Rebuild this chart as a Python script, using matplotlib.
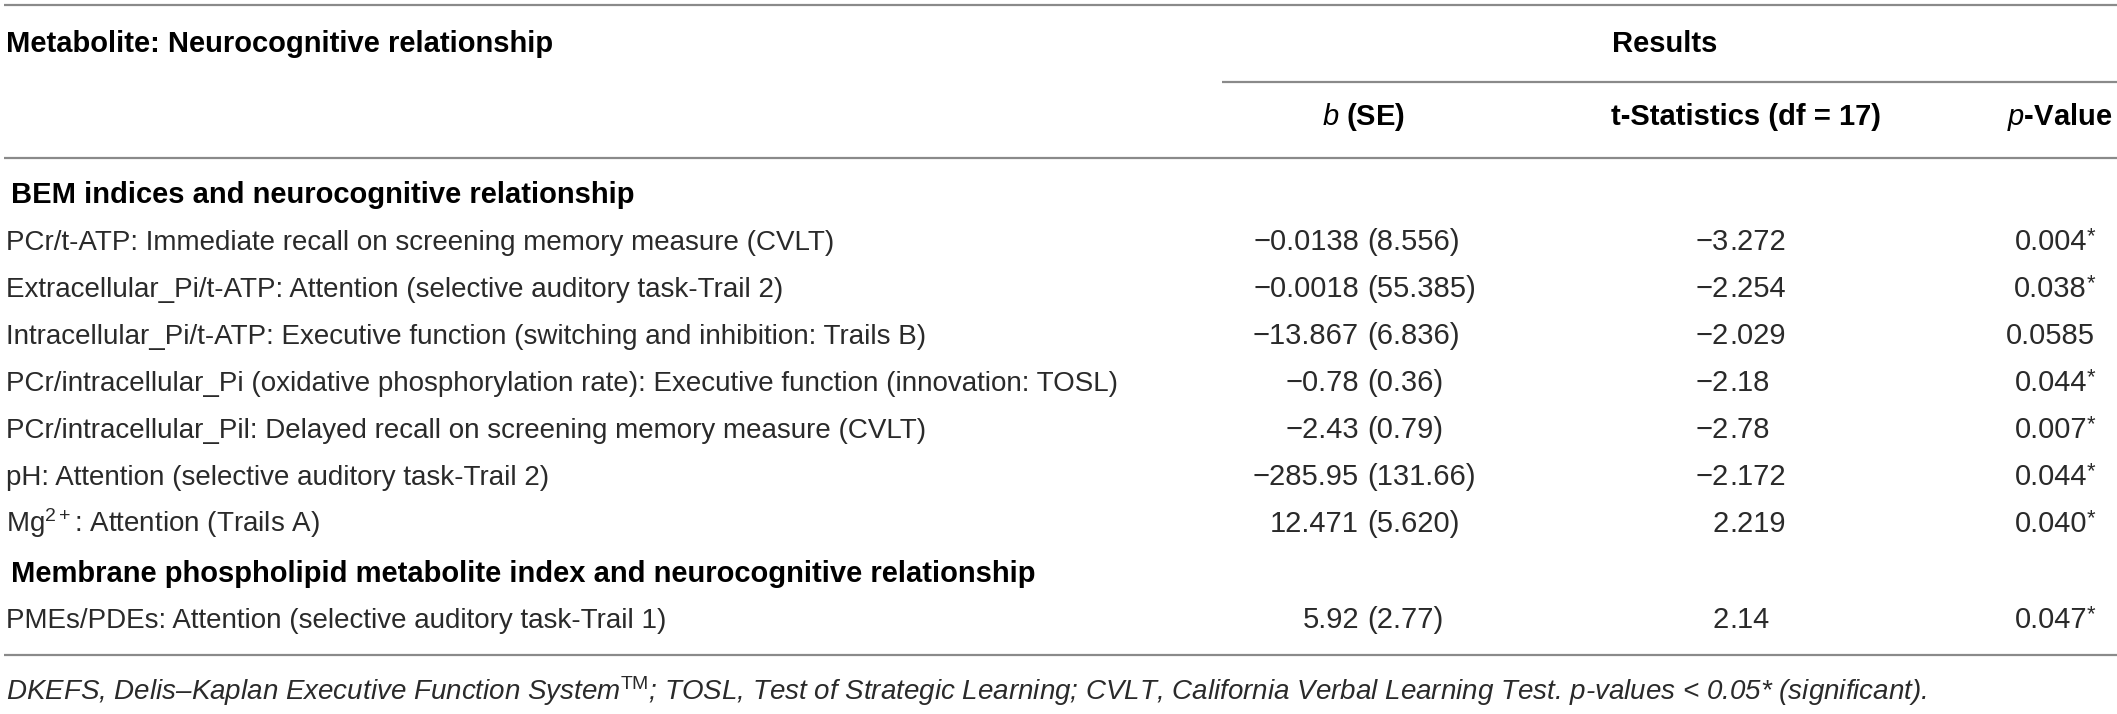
import matplotlib
matplotlib.use("Agg")
import matplotlib.pyplot as plt

plt.rcParams['font.family'] = ['Liberation Sans', 'DejaVu Sans']
plt.rcParams['mathtext.fontset'] = 'custom'
plt.rcParams['mathtext.rm'] = 'Liberation Sans'
plt.rcParams['mathtext.it'] = 'Liberation Sans:italic'
plt.rcParams['mathtext.bf'] = 'Liberation Sans:bold'

# table content
section_titles = ["BEM indices and neurocognitive relationship",
                  "Membrane phospholipid metabolite index and neurocognitive relationship"]
bem_labels = [
    "PCr/t-ATP: Immediate recall on screening memory measure (CVLT)",
    "Extracellular_Pi/t-ATP: Attention (selective auditory task-Trail 2)",
    "Intracellular_Pi/t-ATP: Executive function (switching and inhibition: Trails B)",
    "PCr/intracellular_Pi (oxidative phosphorylation rate): Executive function (innovation: TOSL)",
    "PCr/intracellular_Pil: Delayed recall on screening memory measure (CVLT)",
    "pH: Attention (selective auditory task-Trail 2)",
    "Mg$^{2+}$: Attention (Trails A)",
]
bem_b = ["\u22120.0138", "\u22120.0018", "\u221213.867", "\u22120.78", "\u22122.43", "\u2212285.95", "12.471"]
bem_se = ["8.556", "55.385", "6.836", "0.36", "0.79", "131.66", "5.620"]
bem_t = ["\u22123.272", "\u22122.254", "\u22122.029", "\u22122.18", "\u22122.78", "\u22122.172", "2.219"]
bem_p = ["0.004", "0.038", "0.0585", "0.044", "0.007", "0.044", "0.040"]
bem_sig = [True, True, False, True, True, True, True]

mem_labels = ["PMEs/PDEs: Attention (selective auditory task-Trail 1)"]
mem_b = ["5.92"]
mem_se = ["2.77"]
mem_t = ["2.14"]
mem_p = ["0.047"]
mem_sig = [True]

footnote = ("DKEFS, Delis\u2013Kaplan Executive Function System$^{\\mathrm{TM}}$; TOSL, Test of Strategic "
            "Learning; CVLT, California Verbal Learning Test. p-values < 0.05* (significant).")

W, H = 2117, 714
fig = plt.figure(figsize=(W / 100, H / 100), dpi=100)
ax = fig.add_axes([0, 0, 1, 1])
ax.set_xlim(0, W)
ax.set_ylim(H, 0)
ax.axis('off')

fs = 20      # labels
fsn = 21     # numbers
fsb = 21     # bold headings
txt = '#2a2a2a'
line_c = '#8a8a8a'

x_lab = 6
x_par = 1367    # opening parenthesis of (SE)
x_tdec = 1729   # decimal point of t
x_p = 2095

# rules
for y in [5, 158, 655]:
    ax.plot([4, W], [y, y], color=line_c, lw=1.6, solid_capstyle='butt')
ax.plot([1222, W], [82, 82], color=line_c, lw=1.6, solid_capstyle='butt')

# header
ax.text(x_lab, 52, "Metabolite: Neurocognitive relationship", fontsize=fsb, fontweight='bold',
        color='black', va='baseline')
ax.text(1665, 52, "Results", fontsize=fsb, fontweight='bold', ha='center', va='baseline', color='black')
ax.text(1364, 125, "$\\mathbf{\\mathit{b}}$ (SE)", fontsize=fsb, fontweight='bold', ha='center',
        va='baseline', color='black')
ax.text(1746, 125, "t-Statistics (df = 17)", fontsize=fsb, fontweight='bold', ha='center',
        va='baseline', color='black')
ax.text(2112, 125, "$\\mathbf{\\mathit{p}}$-Value", fontsize=fsb, fontweight='bold', ha='right',
        va='baseline', color='black')


def draw_row(y, label, b, se, t, p, sig):
    ax.text(x_lab, y, label, fontsize=fs, color=txt, va='baseline')
    ax.text(x_par - 8, y, b, fontsize=fsn, color=txt, ha='right', va='baseline')
    ax.text(x_par, y, "(" + se + ")", fontsize=fsn, color=txt, ha='left', va='baseline')
    ip, dp = t.split('.')
    ax.text(x_tdec, y, ip, fontsize=fsn, color=txt, ha='right', va='baseline')
    ax.text(x_tdec, y, '.' + dp, fontsize=fsn, color=txt, ha='left', va='baseline')
    if sig:
        ax.text(x_p - 8, y, p, fontsize=fsn, color=txt, ha='right', va='baseline')
        ax.text(x_p, y - 8, '*', fontsize=fsn * 0.75, color=txt, ha='right', va='baseline')
    else:
        ax.text(x_p, y, p, fontsize=fsn, color=txt, ha='right', va='baseline')


ax.text(11, 203, section_titles[0], fontsize=fsb, fontweight='bold', color='black', va='baseline')
for i in range(len(bem_labels)):
    draw_row(250 + 47 * i, bem_labels[i], bem_b[i], bem_se[i], bem_t[i], bem_p[i], bem_sig[i])

ax.text(11, 582, section_titles[1], fontsize=fsb, fontweight='bold', color='black', va='baseline')
for i in range(len(mem_labels)):
    draw_row(628 + 47 * i, mem_labels[i], mem_b[i], mem_se[i], mem_t[i], mem_p[i], mem_sig[i])

ax.text(x_lab, 700, footnote, fontsize=fs, style='italic', color=txt, va='baseline')

fig.savefig("out.png", dpi=100)
